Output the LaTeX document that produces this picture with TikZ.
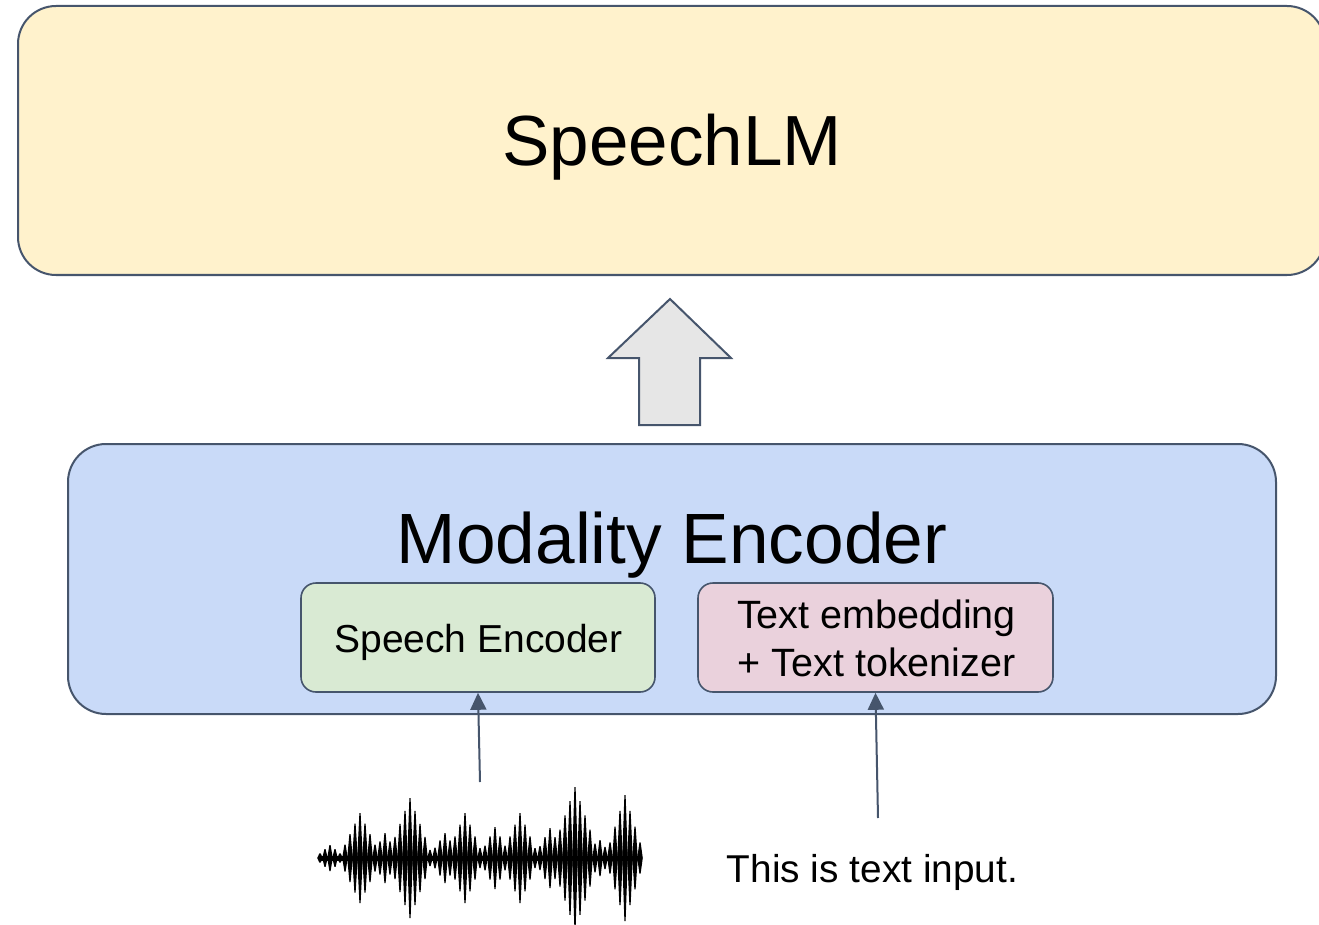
\documentclass[tikz,border=0pt]{standalone}
\usepackage{fontspec}
\setmainfont{Liberation Sans}
\usetikzlibrary{arrows.meta}
\definecolor{edge}{RGB}{70,85,108}
\definecolor{lmfill}{HTML}{FFF2CC}
\definecolor{encfill}{HTML}{C9DAF8}
\definecolor{spfill}{HTML}{D9EAD3}
\definecolor{txfill}{HTML}{EAD1DC}
\definecolor{arrfill}{HTML}{E6E6E6}
\tikzset{
  bigbox/.style={draw=edge, line width=2pt, rounded corners=38pt, inner sep=0pt},
  smallbox/.style={draw=edge, line width=1.6pt, rounded corners=15pt, inner sep=0pt},
  txt/.style={anchor=base, inner sep=0pt, text=black},
  conn/.style={draw=edge, line width=2pt, -{Triangle[width=16pt,length=17pt]}},
}
\begin{document}
\begin{tikzpicture}[x=1pt,y=-1pt]
\useasboundingbox (0,0) rectangle (1319,925);
\clip (0,0) rectangle (1319,925);
% top box
\node[bigbox, fill=lmfill, minimum width=1307pt, minimum height=269pt] (speechlm) at (671.5,140.5) {};
\node[txt, font=\fontsize{71}{85}\selectfont] (speechlmtxt) at (672,166) {SpeechLM};
% block arrow
\filldraw[draw=edge, fill=arrfill, line width=2pt, line join=miter]
  (639,425) -- (639,358) -- (608,358) -- (670,299) -- (731,358) -- (700,358) -- (700,425) -- cycle;
% modality encoder
\node[bigbox, fill=encfill, minimum width=1208pt, minimum height=270pt] (encoder) at (672,579) {};
\node[txt, font=\fontsize{71.2}{85}\selectfont] (encodertxt) at (672,563) {Modality Encoder};
\node[smallbox, fill=spfill, minimum width=354pt, minimum height=109pt] (speechenc) at (478,637.5) {};
\node[txt, font=\fontsize{39}{47}\selectfont] (speechenctxt) at (478.5,652) {Speech Encoder};
\node[smallbox, fill=txfill, minimum width=355pt, minimum height=109pt] (textenc) at (875.5,637.5) {};
\node[txt, font=\fontsize{39.5}{47}\selectfont] (textenctxt1) at (876.5,628) {Text embedding};
\node[txt, font=\fontsize{39.5}{47}\selectfont] (textenctxt2) at (876.5,676) {+ Text tokenizer};
% inputs
\node[txt, font=\fontsize{38.8}{46}\selectfont] (textin) at (872.5,882) {This is text input.};
\coordinate (wavetop) at (480,782);
\coordinate (texttop) at (878,818);
\draw[conn] (wavetop) -- (speechenc.south);
\draw[conn] (texttop) -- (textenc.south);
% waveform
\draw[black, line width=5pt, line cap=round] (321,858) -- (637,858);
\foreach \i in {0,...,64}{
  \pgfmathsetmacro\xx{320+5*\i}
  \pgfmathsetmacro\aa{3+max(10*max(0,1-abs(\xx-330)/12),
    42*max(0,1-abs(\xx-360)/20), 22*max(0,1-abs(\xx-385)/13),
    57*max(0,1-abs(\xx-410)/22), 22*max(0,1-abs(\xx-445)/15),
    42*max(0,1-abs(\xx-465)/18), 28*max(0,1-abs(\xx-495)/15),
    42*max(0,1-abs(\xx-520)/18), 27*max(0,1-abs(\xx-550)/15),
    68*max(0,1-abs(\xx-575)/24), 15*max(0,1-abs(\xx-600)/11),
    60*max(0,1-abs(\xx-625)/19))}
  \fill[black] (\xx-2.8,858) -- (\xx-0.6,858-\aa) -- (\xx+0.6,858-\aa) -- (\xx+2.8,858) -- (\xx+0.6,858+\aa) -- (\xx-0.6,858+\aa) -- cycle;
}
\end{tikzpicture}
\end{document}
